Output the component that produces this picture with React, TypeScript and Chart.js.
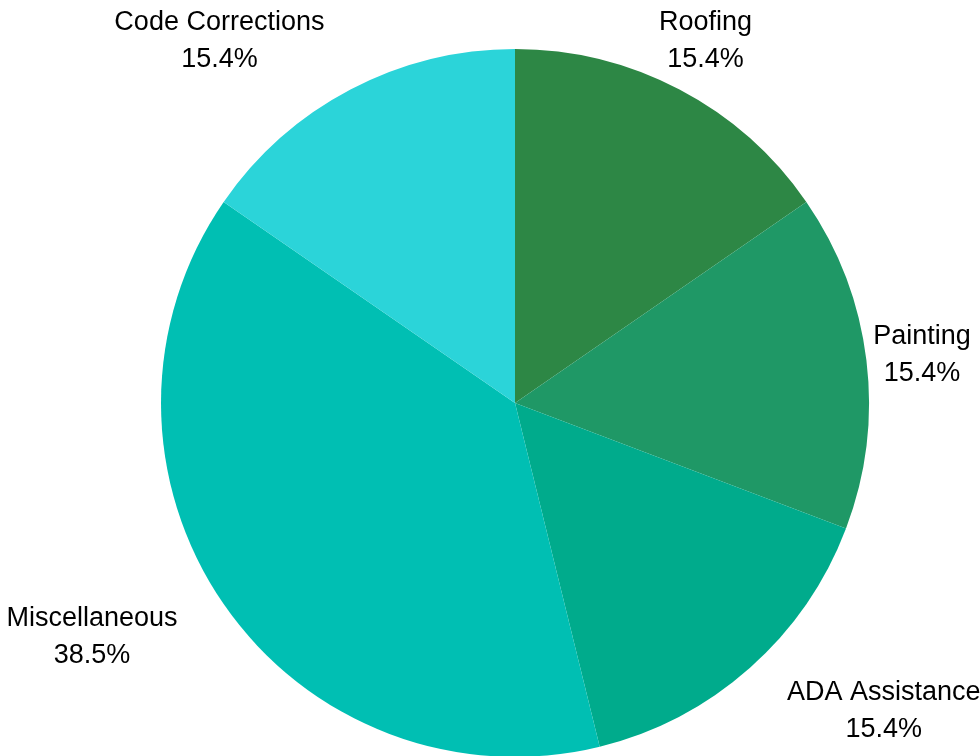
import React, { useEffect, useRef } from "react";
import { Chart, registerables } from "chart.js";

Chart.register(...registerables);

const categories = ["Roofing", "Painting", "ADA Assistance", "Miscellaneous", "Code Corrections"];
const values = [2, 2, 2, 5, 2];
const colors = ["#2d8745", "#1f9866", "#00ab8c", "#00bfb3", "#2bd4d9"];

const FONT = '27px "Liberation Sans", Arial, sans-serif';

const outsideLabels = {
  id: "outsideLabels",
  afterDatasetsDraw(chart: any) {
    const ctx = chart.ctx;
    const meta = chart.getDatasetMeta(0);
    const data = chart.data.datasets[0].data as number[];
    const total = data.reduce((a, b) => a + b, 0);
    ctx.save();
    ctx.font = FONT;
    ctx.fillStyle = "#000000";
    ctx.textBaseline = "middle";
    ctx.textAlign = "center";
    meta.data.forEach((arc: any, i: number) => {
      const p = arc.getProps(["x", "y", "startAngle", "endAngle", "outerRadius"], true);
      const mid = (p.startAngle + p.endAngle) / 2;
      const r = p.outerRadius + 56;
      const ax = p.x + Math.cos(mid) * r;
      const ay = p.y + Math.sin(mid) * r;
      const lines = [String(chart.data.labels[i]), ((data[i] / total) * 100).toFixed(1) + "%"];
      const w = Math.max(...lines.map((l) => ctx.measureText(l).width));
      let cx = ax;
      if (Math.cos(mid) < 0) cx = ax - w / 2;
      else if (Math.sin(mid) > 0.3) cx = ax + w / 2;
      const lh = 37;
      lines.forEach((l, k) => {
        ctx.fillText(l, cx, ay + 1 + (k - (lines.length - 1) / 2) * lh);
      });
    });
    ctx.restore();
  },
};

export default function App() {
  const ref = useRef<HTMLCanvasElement | null>(null);
  useEffect(() => {
    if (!ref.current) return;
    const chart = new Chart(ref.current, {
      type: "pie",
      data: {
        labels: categories,
        datasets: [
          {
            data: values,
            backgroundColor: colors,
            borderWidth: 0,
          },
        ],
      },
      options: {
        animation: false,
        responsive: true,
        maintainAspectRatio: false,
        layout: { padding: { left: 161, right: 111, top: 49, bottom: 0 } },
        plugins: {
          legend: { display: false },
          tooltip: { enabled: false },
        },
      },
      plugins: [outsideLabels],
    });
    return () => chart.destroy();
  }, []);
  return (
    <div style={{ position: "fixed", left: 0, top: 0, width: 980, height: 757, background: "#fff" }}>
      <canvas ref={ref} />
    </div>
  );
}
